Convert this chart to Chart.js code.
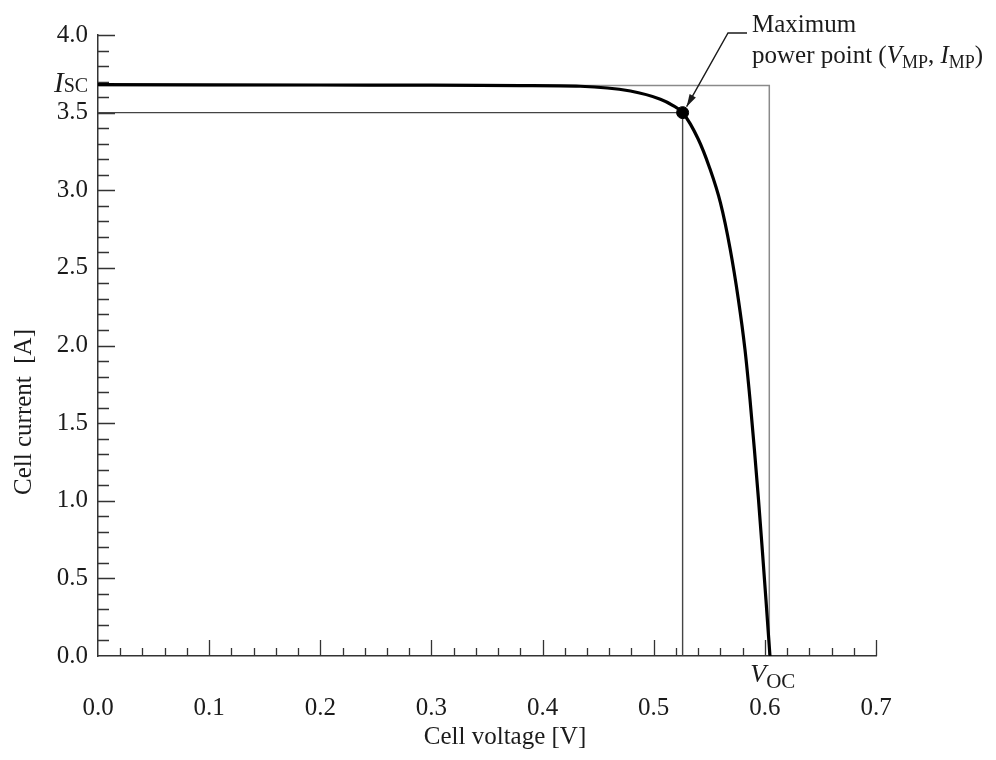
<!DOCTYPE html>
<html>
<head>
<meta charset="utf-8">
<script src="https://cdn.jsdelivr.net/npm/chart.js@4/dist/chart.umd.min.js"></script>
<style>
  html, body { margin: 0; padding: 0; background: #fff; }
  #wrap { width: 996px; height: 760px; }
</style>
</head>
<body>
<div id="wrap"><canvas id="ivcurve"></canvas></div>
<script>
// I-V curve of a single solar cell
const cellVoltage = [0, 0.1, 0.2, 0.3, 0.38, 0.434, 0.479, 0.506, 0.517, 0.526,
  0.54, 0.55, 0.56, 0.5687, 0.5761, 0.5821, 0.5866, 0.5906, 0.5943, 0.5977, 0.601, 0.6046];
const cellCurrent = [3.68, 3.679, 3.678, 3.677, 3.674, 3.670, 3.639, 3.586, 3.547, 3.50,
  3.33, 3.15, 2.92, 2.625, 2.30, 1.975, 1.655, 1.33, 1.005, 0.683, 0.361, 0];

const Isc = 3.675;   // short-circuit current [A]
const Voc = 0.604;   // open-circuit voltage [V]
const Vmp = 0.526;   // maximum power point
const Imp = 3.50;

const xTicks = [0, 0.1, 0.2, 0.3, 0.4, 0.5, 0.6, 0.7];
const yTicks = [0, 0.5, 1.0, 1.5, 2.0, 2.5, 3.0, 3.5, 4.0];

const SERIF = '"Liberation Serif", "Times New Roman", serif';
const INK = '#1b1b1b';

const curvePoints = cellVoltage.map((v, i) => ({x: v, y: cellCurrent[i]}));

// small helper: italic symbol followed by an upright subscript
function symbolText(ctx, x, y, main, sub, size, subSize, drop) {
  ctx.font = `italic ${size}px ${SERIF}`;
  ctx.fillText(main, x, y);
  const w = ctx.measureText(main).width;
  ctx.font = `${subSize}px ${SERIF}`;
  ctx.fillText(sub, x + w, y + drop);
  return x + w + ctx.measureText(sub).width;
}

const axisTicks = {
  id: 'axisTicks',
  beforeDatasetsDraw(chart) {
    const {ctx, chartArea: a, scales: {x, y}} = chart;
    ctx.save();
    ctx.strokeStyle = '#333';
    ctx.lineWidth = 1.3;
    ctx.beginPath();
    // x: minor every 0.02, major every 0.1, pointing up
    for (let i = 1; i <= 35; i++) {
      const px = Math.round(x.getPixelForValue(i * 0.02)) + 0.5;
      const len = i % 5 === 0 ? 16 : 8;
      ctx.moveTo(px, a.bottom);
      ctx.lineTo(px, a.bottom - len);
    }
    // y: minor every 0.1, major every 0.5, pointing right
    for (let i = 1; i <= 40; i++) {
      const py = Math.round(y.getPixelForValue(i * 0.1)) + 0.5;
      const len = i % 5 === 0 ? 17 : 11;
      ctx.moveTo(a.left, py);
      ctx.lineTo(a.left + len, py);
    }
    ctx.stroke();
    ctx.restore();
  },
  afterDraw(chart) {
    const {ctx, scales: {x, y}} = chart;
    ctx.save();
    ctx.fillStyle = INK;
    ctx.textBaseline = 'alphabetic';

    // axis titles
    ctx.font = `25px ${SERIF}`;
    ctx.textAlign = 'center';
    ctx.fillText('Cell voltage [V]', 505, 744);
    ctx.save();
    ctx.translate(31, 412);
    ctx.rotate(-Math.PI / 2);
    ctx.fillText('Cell current  [A]', 0, 0);
    ctx.restore();

    ctx.textAlign = 'left';
    // I_SC next to the y axis
    const iy = y.getPixelForValue(Isc);
    symbolText(ctx, 54, iy + 7, 'I', 'SC', 29, 20, 0);
    // V_OC under the x axis
    const vx = x.getPixelForValue(Voc);
    symbolText(ctx, vx - 19, 682, 'V', 'OC', 26, 21, 6);

    // maximum power point label
    ctx.font = `25px ${SERIF}`;
    ctx.fillText('Maximum', 752, 32);
    let tx = 752;
    ctx.fillText('power point (', tx, 63);
    tx += ctx.measureText('power point (').width;
    tx = symbolText(ctx, tx, 63, 'V', 'MP', 25, 18, 5);
    ctx.font = `25px ${SERIF}`;
    ctx.fillText(', ', tx, 63);
    tx += ctx.measureText(', ').width;
    tx = symbolText(ctx, tx, 63, 'I', 'MP', 25, 18, 5);
    ctx.font = `25px ${SERIF}`;
    ctx.fillText(')', tx, 63);

    // leader arrow to the point
    const mx = x.getPixelForValue(Vmp), my = y.getPixelForValue(Imp);
    const tipX = mx + 4, tipY = my - 6;
    const elbowX = 728, elbowY = 33;
    ctx.strokeStyle = INK;
    ctx.lineWidth = 1.4;
    ctx.beginPath();
    ctx.moveTo(747, elbowY);
    ctx.lineTo(elbowX, elbowY);
    ctx.lineTo(tipX, tipY);
    ctx.stroke();
    const ang = Math.atan2(tipY - elbowY, tipX - elbowX);
    ctx.beginPath();
    ctx.moveTo(tipX, tipY);
    ctx.lineTo(tipX - 13 * Math.cos(ang - 0.28), tipY - 13 * Math.sin(ang - 0.28));
    ctx.lineTo(tipX - 13 * Math.cos(ang + 0.28), tipY - 13 * Math.sin(ang + 0.28));
    ctx.closePath();
    ctx.fill();
    ctx.restore();
  }
};

new Chart(document.getElementById('ivcurve'), {
  type: 'scatter',
  data: {
    datasets: [
      {
        // Isc / Voc bounding rectangle
        data: [{x: 0, y: Isc}, {x: Voc, y: Isc}, {x: Voc, y: 0}],
        showLine: true,
        borderColor: '#8a8a8a',
        borderWidth: 1.5,
        pointRadius: 0,
        order: 3
      },
      {
        // Vmp / Imp rectangle
        data: [{x: 0, y: Imp}, {x: Vmp, y: Imp}, {x: Vmp, y: 0}],
        showLine: true,
        borderColor: '#444',
        borderWidth: 1.4,
        pointRadius: 0,
        order: 2
      },
      {
        data: curvePoints,
        showLine: true,
        borderColor: '#000',
        borderWidth: 3.2,
        pointRadius: 0,
        cubicInterpolationMode: 'monotone',
        order: 1
      },
      {
        data: [{x: Vmp, y: Imp}],
        pointRadius: 6,
        pointBackgroundColor: '#000',
        pointBorderColor: '#000',
        order: 0
      }
    ]
  },
  plugins: [axisTicks],
  options: {
    responsive: true,
    maintainAspectRatio: false,
    animation: false,
    events: [],
    layout: {padding: {top: 35, right: 120, left: 0, bottom: 0}},
    plugins: {
      legend: {display: false},
      tooltip: {enabled: false}
    },
    scales: {
      x: {
        type: 'linear',
        min: 0,
        max: 0.7,
        afterBuildTicks: s => { s.ticks = xTicks.map(v => ({value: v})); },
        afterFit: s => { s.height = 104; },
        grid: {display: false, drawTicks: false},
        border: {display: true, color: '#333', width: 1.5},
        ticks: {
          padding: 37,
          color: INK,
          font: {family: SERIF, size: 25},
          callback: v => v.toFixed(1)
        }
      },
      y: {
        type: 'linear',
        min: 0,
        max: 4,
        afterBuildTicks: s => { s.ticks = yTicks.map(v => ({value: v})); },
        afterFit: s => { s.width = 98; },
        grid: {display: false, drawTicks: false},
        border: {display: true, color: '#333', width: 1.5},
        ticks: {
          padding: 10,
          color: INK,
          font: {family: SERIF, size: 25},
          callback: v => v.toFixed(1)
        }
      }
    }
  }
});
</script>
</body>
</html>
